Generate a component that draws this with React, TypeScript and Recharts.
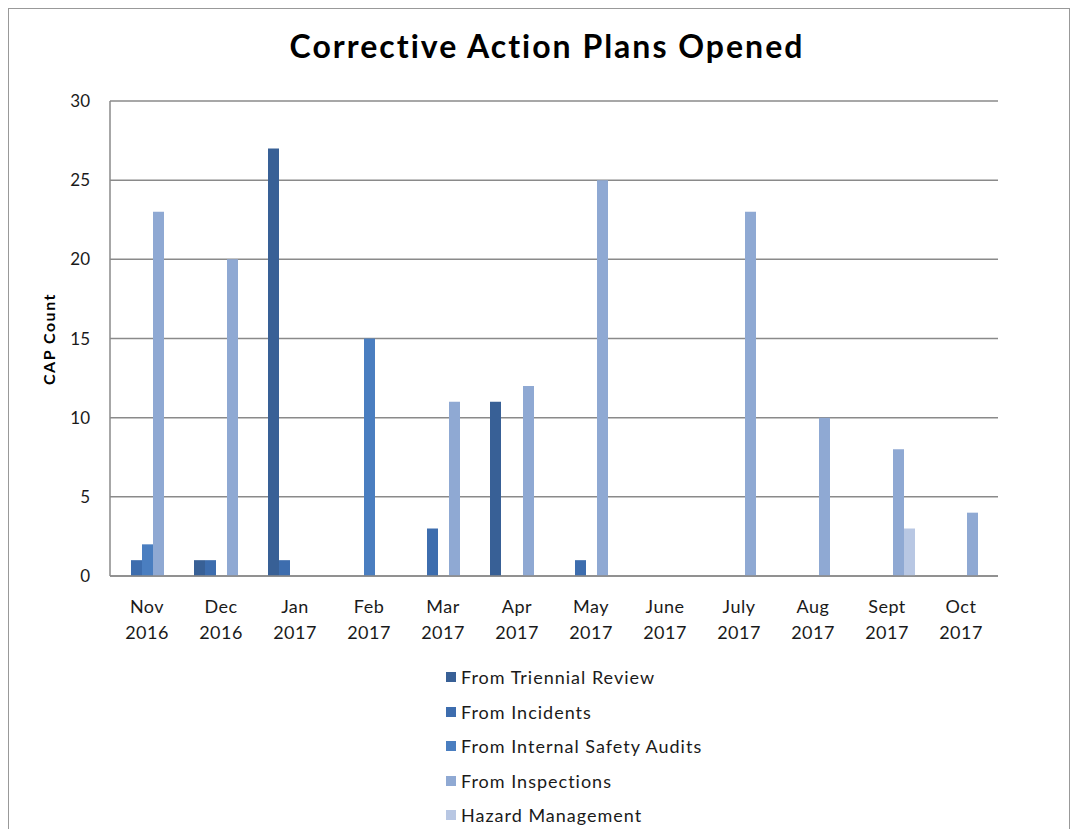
import { Bar, BarChart, CartesianGrid, Legend, XAxis, YAxis } from 'recharts'

const months = ['Nov', 'Dec', 'Jan', 'Feb', 'Mar', 'Apr', 'May', 'June', 'July', 'Aug', 'Sept', 'Oct']
const years = ['2016', '2016', '2017', '2017', '2017', '2017', '2017', '2017', '2017', '2017', '2017', '2017']

const triennialReview = [0, 1, 27, 0, 0, 11, 0, 0, 0, 0, 0, 0]
const incidents = [1, 1, 1, 0, 3, 0, 1, 0, 0, 0, 0, 0]
const internalSafetyAudits = [2, 0, 0, 15, 0, 0, 0, 0, 0, 0, 0, 0]
const inspections = [23, 20, 0, 0, 11, 12, 25, 0, 23, 10, 8, 4]
const hazardManagement = [0, 0, 0, 0, 0, 0, 0, 0, 0, 0, 3, 0]

const yTicks = [0, 5, 10, 15, 20, 25, 30]

const series = [
  { key: 'triennial', name: 'From Triennial Review', color: '#386096' },
  { key: 'incidents', name: 'From Incidents', color: '#3D6DAE' },
  { key: 'audits', name: 'From Internal Safety Audits', color: '#4A7EC0' },
  { key: 'inspections', name: 'From Inspections', color: '#8FA9D3' },
  { key: 'hazard', name: 'Hazard Management', color: '#B8C7E3' },
]

const data = months.map((m, i) => ({
  name: m,
  year: years[i],
  triennial: triennialReview[i],
  incidents: incidents[i],
  audits: internalSafetyAudits[i],
  inspections: inspections[i],
  hazard: hazardManagement[i],
}))

const font = 'Lato, "Open Sans", sans-serif'

function MonthTick(props: any) {
  const { x, y, payload } = props
  const idx = payload.index
  return (
    <g transform={`translate(${x},${y})`}>
      <text textAnchor="middle" fontSize={18} fill="#1a1a1a" fontFamily={font} letterSpacing={0.5}>
        <tspan x={0} dy={29}>{months[idx]}</tspan>
        <tspan x={0} dy={26}>{years[idx]}</tspan>
      </text>
    </g>
  )
}

function LegendList() {
  return (
    <div style={{ fontFamily: font, fontSize: 18, letterSpacing: 1, color: '#1a1a1a' }}>
      {series.map((s) => (
        <div key={s.key} style={{ display: 'flex', alignItems: 'center', height: 34.5 }}>
          <span style={{ width: 10, height: 10, background: s.color, marginRight: 5, display: 'inline-block' }} />
          <span>{s.name}</span>
        </div>
      ))}
    </div>
  )
}

export default function App() {
  return (
    <div style={{ position: 'relative', width: 1062, height: 830, border: '1px solid #999', boxSizing: 'border-box', background: '#fff' }}>
      <div
        style={{
          position: 'absolute',
          left: 0,
          width: 1076,
          top: 17,
          textAlign: 'center',
          fontFamily: font,
          fontWeight: 700,
          fontSize: 32,
          letterSpacing: 2,
          color: '#000',
        }}
      >
        Corrective Action Plans Opened
      </div>
      <div
        style={{
          position: 'absolute',
          left: 39,
          top: 330,
          transform: 'translate(-50%, -50%) rotate(-90deg)',
          fontFamily: font,
          fontWeight: 700,
          fontSize: 16,
          letterSpacing: 1.5,
          whiteSpace: 'nowrap',
        }}
      >
        CAP Count
      </div>
      <BarChart
        width={1060}
        height={828}
        data={data}
        barSize={11}
        barGap={0}
        margin={{ top: 92, right: 71, left: 41, bottom: 191 }}
      >
        <CartesianGrid vertical={false} stroke="#8a8a8a" strokeWidth={1.5} />
        <XAxis
          dataKey="name"
          tick={<MonthTick />}
          tickLine={false}
          axisLine={{ stroke: '#8a8a8a', strokeWidth: 1.5 }}
          height={70}
          interval={0}
        />
        <YAxis
          domain={[0, 30]}
          ticks={yTicks}
          width={60}
          tickLine={false}
          axisLine={{ stroke: '#8a8a8a', strokeWidth: 1.5 }}
          tick={{ fontSize: 17, fill: '#1a1a1a', fontFamily: font }}
          tickMargin={14}
        />
        {series.map((s) => (
          <Bar key={s.key} dataKey={s.key} name={s.name} fill={s.color} isAnimationActive={false} />
        ))}
        <Legend
          layout="vertical"
          align="center"
          verticalAlign="middle"
          content={<LegendList />}
          wrapperStyle={{ top: 651, left: 437, width: 320 }}
        />
      </BarChart>
    </div>
  )
}
